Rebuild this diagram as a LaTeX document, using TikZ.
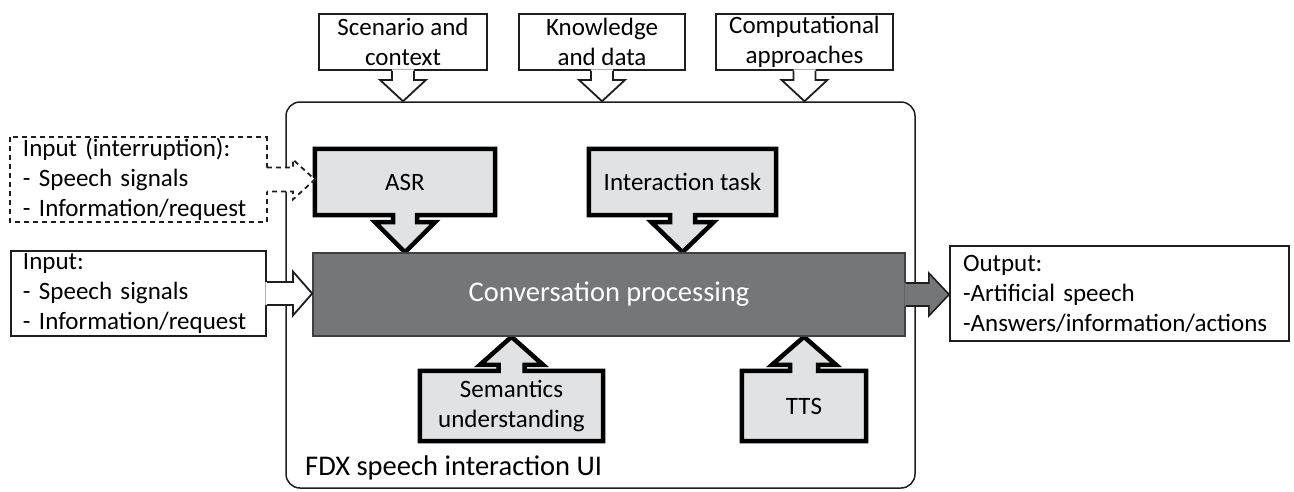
\documentclass[tikz,border=0pt]{standalone}
\usepackage{fontspec}
\setmainfont{Carlito}
\usetikzlibrary{calc,backgrounds}
\definecolor{lightbox}{HTML}{E1E2E4}
\definecolor{convgray}{HTML}{75767A}
\definecolor{lineblack}{HTML}{1E1E1E}
\tikzset{
  txt/.style={font=\fontsize{25}{30}\selectfont, inner sep=0pt, align=center},
  topbox/.style={txt, draw=lineblack, line width=1.8pt, fill=white, minimum height=56pt},
  callbox/.style={txt, minimum height=66pt},
  sidebox/.style={txt, align=left, draw=lineblack, line width=1.8pt, fill=white, text width=231pt, inner xsep=12pt, minimum height=85pt},
  convbox/.style={font=\fontsize{28.5}{34}\selectfont, text=white, fill=convgray, draw=lineblack!85, line width=1.6pt, minimum width=592pt, minimum height=83pt, inner sep=0pt},
  uibox/.style={draw=lineblack, line width=1.5pt, rounded corners=14pt, minimum width=629pt, minimum height=386pt, inner sep=0pt},
  callout/.style={draw=black, line width=4.5pt, fill=lightbox, line join=miter},
  thinln/.style={draw=lineblack, line width=1.8pt, line join=miter},
  dashln/.style={thinln, dash pattern=on 5pt off 4pt},
}
\newcommand\tdarrow[1]{%
  \fill[white] ($(#1.south)+(-11,-1.5)$) -- ($(#1.south)+(-11,9)$) -- ($(#1.south)+(-23,9)$) -- (#1.south |- ui.north) -- ($(#1.south)+(23,9)$) -- ($(#1.south)+(11,9)$) -- ($(#1.south)+(11,-1.5)$) -- cycle;
  \draw[thinln] ($(#1.south)+(-11,0)$) -- ($(#1.south)+(-11,9)$) -- ($(#1.south)+(-23,9)$) -- (#1.south |- ui.north) -- ($(#1.south)+(23,9)$) -- ($(#1.south)+(11,9)$) -- ($(#1.south)+(11,0)$);
}
\begin{document}
\begin{tikzpicture}[x=1pt,y=-1pt]
\useasboundingbox (0,0) rectangle (1294,491);

\begin{scope}[on background layer]
  \node[uibox] (ui) at (600.5,295) {};
\end{scope}

% top input boxes
\node[topbox, minimum width=168pt] (scen) at (403,42) {Scenario and\\context};
\node[topbox, minimum width=166pt] (know) at (602,42) {Knowledge\\and data};
\node[topbox, minimum width=177pt] (comp) at (804.5,42) {Computational\\approaches};

% inner modules
\node[callbox, minimum width=180pt] (asr) at (405,182) {ASR};
\node[callbox, minimum width=187pt] (task) at (682.5,182) {Interaction task};
\node[convbox] (conv) at (609,294.5) {Conversation processing};
\node[callbox, minimum width=183pt, minimum height=70pt] (sem) at (511.5,406) {Semantics\\understanding};
\node[callbox, minimum width=124pt, minimum height=70pt] (tts) at (804,406) {TTS};

% side boxes
\node[sidebox] (input) at (138.5,293.5) {Input:\\- Speech signals\\- Information/request};
\node[sidebox, draw=none, minimum height=83pt] (intr) at (138.5,179.5) {Input (interruption):\\- Speech signals\\- Information/request};
\draw[dashln] (intr.north west) rectangle (intr.south east);
\node[sidebox, text width=313pt, inner xsep=13pt, minimum height=95pt] (output) at (1119.5,293.5) {Output:\\-Artificial speech\\-Answers/information/actions};

\node[anchor=base west, font=\fontsize{28.5}{34}\selectfont, inner sep=0pt] (uilabel) at (305,475) {FDX speech interaction UI};

% top arrows
\tdarrow{scen}
\tdarrow{know}
\tdarrow{comp}

% input arrow
\fill[white] ($(input.east)+(-1.5,-11.5)$) -- ($(input.east)+(26,-11.5)$) -- ($(input.east)+(26,-22)$) -- (input.east -| conv.west) -- ($(input.east)+(26,22)$) -- ($(input.east)+(26,11.5)$) -- ($(input.east)+(-1.5,11.5)$) -- cycle;
\draw[thinln] ($(input.east)+(0,-11.5)$) -- ($(input.east)+(26,-11.5)$) -- ($(input.east)+(26,-22)$) -- (input.east -| conv.west) -- ($(input.east)+(26,22)$) -- ($(input.east)+(26,11.5)$) -- ($(input.east)+(0,11.5)$);

% interruption arrow
\fill[white] ($(intr.east)+(-1.5,-12)$) -- ($(intr.east)+(26,-12)$) -- ($(intr.east)+(26,-20)$) -- (intr.east -| asr.west) -- ($(intr.east)+(26,20)$) -- ($(intr.east)+(26,12)$) -- ($(intr.east)+(-1.5,12)$) -- cycle;
\draw[dashln] ($(intr.east)+(0,-12)$) -- ($(intr.east)+(26,-12)$) -- ($(intr.east)+(26,-20)$) -- (intr.east -| asr.west) -- ($(intr.east)+(26,20)$) -- ($(intr.east)+(26,12)$) -- ($(intr.east)+(0,12)$);

% output arrow
\fill[convgray] ($(conv.east)+(-1.5,-11.5)$) -- ($(conv.east)+(23,-11.5)$) -- ($(conv.east)+(23,-21.5)$) -- (conv.east -| output.west) -- ($(conv.east)+(23,21.5)$) -- ($(conv.east)+(23,11.5)$) -- ($(conv.east)+(-1.5,11.5)$) -- cycle;
\draw[thinln, line width=1.6pt] ($(conv.east)+(0,-11.5)$) -- ($(conv.east)+(23,-11.5)$) -- ($(conv.east)+(23,-21.5)$) -- (conv.east -| output.west) -- ($(conv.east)+(23,21.5)$) -- ($(conv.east)+(23,11.5)$) -- ($(conv.east)+(0,11.5)$);

% callout outlines behind the texts
\begin{scope}[on background layer]
  \draw[callout] (asr.north west) -- (asr.north east) -- (asr.south east) -- ($(asr.south)+(12,0)$) -- ($(asr.south)+(12,7)$) -- ($(asr.south)+(30,7)$) -- (asr.south |- conv.north) -- ($(asr.south)+(-30,7)$) -- ($(asr.south)+(-12,7)$) -- ($(asr.south)+(-12,0)$) -- (asr.south west) -- cycle;
  \draw[callout] (task.north west) -- (task.north east) -- (task.south east) -- ($(task.south)+(12.5,0)$) -- ($(task.south)+(12.5,7)$) -- ($(task.south)+(31,7)$) -- (task.south |- conv.north) -- ($(task.south)+(-31,7)$) -- ($(task.south)+(-12.5,7)$) -- ($(task.south)+(-12.5,0)$) -- (task.south west) -- cycle;
  \draw[callout] (sem.south west) -- (sem.south east) -- (sem.north east) -- ($(sem.north)+(13,0)$) -- ($(sem.north)+(13,-6)$) -- ($(sem.north)+(31.5,-6)$) -- (sem.north |- conv.south) -- ($(sem.north)+(-31.5,-6)$) -- ($(sem.north)+(-13,-6)$) -- ($(sem.north)+(-13,0)$) -- (sem.north west) -- cycle;
  \draw[callout] (tts.south west) -- (tts.south east) -- (tts.north east) -- ($(tts.north)+(14,0)$) -- ($(tts.north)+(14,-6)$) -- ($(tts.north)+(32,-6)$) -- (tts.north |- conv.south) -- ($(tts.north)+(-32,-6)$) -- ($(tts.north)+(-14,-6)$) -- ($(tts.north)+(-14,0)$) -- (tts.north west) -- cycle;
\end{scope}
\end{tikzpicture}
\end{document}
